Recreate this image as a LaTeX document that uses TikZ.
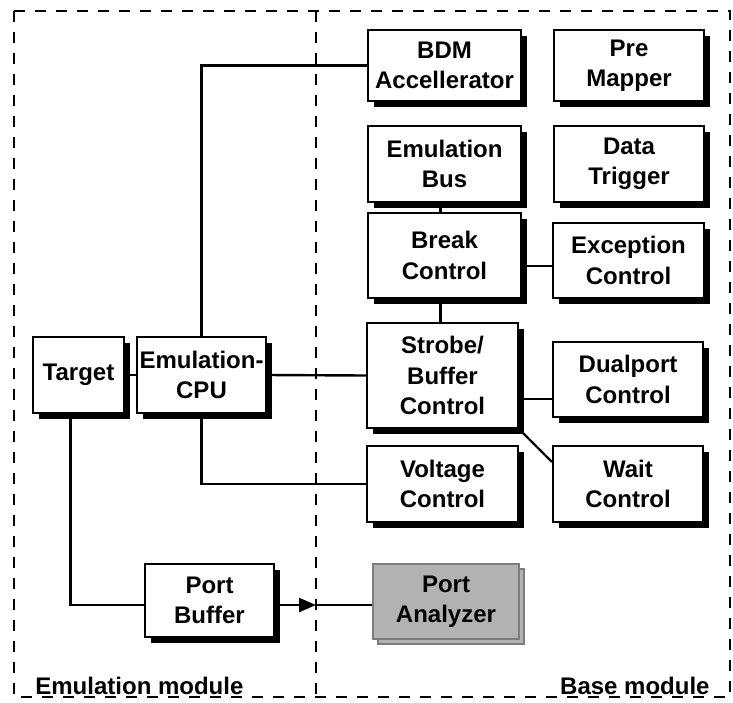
\documentclass[tikz,border=0pt]{standalone}
\usepackage{fontspec}
\setmainfont{Liberation Sans}
\usetikzlibrary{arrows.meta, shadows}
\definecolor{pagray}{RGB}{178,178,178}
\definecolor{paedge}{RGB}{125,125,125}

\begin{document}
\begin{tikzpicture}[x=0.5pt, y=-0.5pt,
  box/.style={draw, fill=white, line width=1.1pt, align=center, inner sep=0pt,
    font=\bfseries\fontsize{12}{15.2}\selectfont},
  blk/.style={box, drop shadow={shadow xshift=3pt, shadow yshift=-3pt, opacity=1, fill=black}},
  ana/.style={box, fill=pagray, draw=paedge, line width=1pt,
    copy shadow={shadow xshift=2.5pt, shadow yshift=-2.5pt, fill=pagray, draw=paedge, line width=1pt}},
  lbl/.style={inner sep=0pt, font=\bfseries\fontsize{12}{15.2}\selectfont},
  wire/.style={line width=1.2pt},
  frame/.style={line width=0.9pt, dash pattern=on 5.5pt off 5pt}]
\useasboundingbox (0,0) rectangle (733,702);
\draw[frame] (14,11) rectangle (730,697);
\draw[frame] (316,11) -- (316,697);

\node[blk, minimum width=76.5pt, minimum height=35.5pt] (bdm) at (444.5,65.5) {BDM\\Accellerator};
\node[blk, minimum width=75pt, minimum height=35.5pt] (pre) at (629,65.5) {Pre\\Mapper};
\node[blk, minimum width=76.5pt, minimum height=38pt] (ebus) at (444.5,164) {Emulation\\Bus};
\node[blk, minimum width=75pt, minimum height=38pt] (dtrig) at (629,164) {Data\\Trigger};
\node[blk, minimum width=76.5pt, minimum height=42.5pt] (brk) at (444.5,255.5) {Break\\Control};
\node[blk, minimum width=75.5pt, minimum height=37.5pt] (exc) at (628.5,260.5) {Exception\\Control};
\node[blk, minimum width=75.5pt, minimum height=52.5pt] (sbc) at (442.5,375.5) {Strobe/\\Buffer\\Control};
\node[blk, minimum width=75pt, minimum height=37.5pt] (dual) at (628,379.5) {Dualport\\Control};
\node[blk, minimum width=75.5pt, minimum height=38pt] (volt) at (442.5,484) {Voltage\\Control};
\node[blk, minimum width=75pt, minimum height=38pt] (wait) at (628,484) {Wait\\Control};
\node[blk, minimum width=45.5pt, minimum height=38pt] (target) at (78.5,375) {Target};
\node[blk, minimum width=64.5pt, minimum height=38pt] (cpu) at (201.5,375) {Emulation-\\CPU};
\node[blk, minimum width=64.5pt, minimum height=36.5pt] (pbuf) at (209.5,600.5) {Port\\Buffer};
\node[ana, minimum width=73pt, minimum height=37.5pt] (pana) at (446,601.5) {Port\\Analyzer};

\node[lbl, anchor=base west] (emlbl) at (35,694) {Emulation module};
\node[lbl, anchor=base east] (baselbl) at (710,694) {Base module};

\coordinate (div) at (316,605);
\draw[wire] (cpu.north) |- (bdm.west);
\draw[wire] (cpu.south) |- (volt.west);
\draw[wire] (target.east) -- (cpu.west);
\draw[wire] (cpu.east) -- (sbc.west);
\draw[wire] ([xshift=-2pt]ebus.south) -- ([xshift=-2pt]brk.north);
\draw[wire] ([xshift=-2pt]brk.south) -- ([xshift=-2pt]brk.south |- sbc.north);
\draw[wire] ([yshift=-2.75pt]exc.west) -- ([yshift=-2.75pt]exc.west -| brk.east);
\draw[wire] ([yshift=-9.75pt]dual.west) -- ([yshift=-9.75pt]dual.west -| sbc.east);
\draw[wire] (sbc.south east) -- ([yshift=-8.5pt]wait.north west);
\draw[wire] ([xshift=-4pt]target.south) |- ([yshift=-2.25pt]pbuf.west);
\draw[wire, -{Triangle[length=8.5pt, width=7pt]}] ([yshift=-2.25pt]pbuf.east) -- (div);
\draw[line width=0.6pt] (div) -- (div -| pana.west);
\end{tikzpicture}
\end{document}
